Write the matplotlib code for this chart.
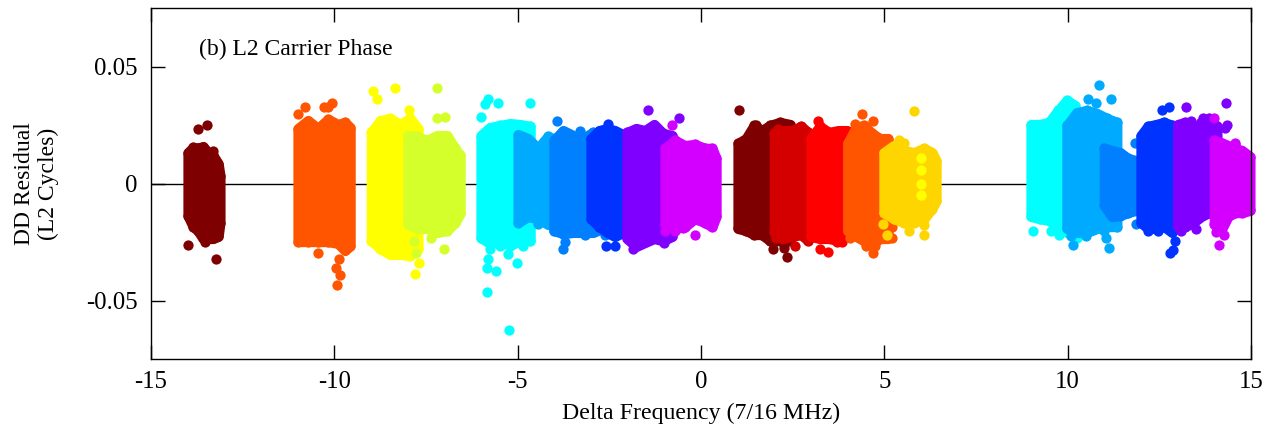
import matplotlib
matplotlib.use("Agg")
import matplotlib.pyplot as plt

plt.rcParams['font.family'] = ['Liberation Serif', 'DejaVu Serif']
plt.rcParams['axes.unicode_minus'] = False

cloud_colors = ['#7f0000', '#ff5500', '#ffff00', '#d4ff2a', '#00ffff', '#00aaff', '#0080ff',
                '#0033ff', '#8000ff', '#d400ff', '#7f0000', '#d40000', '#ff0000', '#ff5500',
                '#ffd500', '#00ffff', '#00aaff', '#0080ff', '#0033ff', '#8000ff', '#d400ff']

# outline of each dense cloud
cloud_x = [
    [-13.99, -13.85, -13.72, -13.58, -13.45, -13.31, -13.17, -13.12],
    [-10.99, -10.72, -10.45, -10.17, -9.90, -9.71, -9.57],
    [-8.99, -8.75, -8.48, -8.21, -7.94, -7.72],
    [-7.99, -7.75, -7.47, -7.20, -6.93, -6.71, -6.57],
    [-6.00, -5.76, -5.48, -5.21, -4.94, -4.66],
    [-4.99, -4.72, -4.45, -4.17, -3.90, -3.71],
    [-4.01, -3.76, -3.49, -3.22, -2.95, -2.67],
    [-3.00, -2.78, -2.56, -2.35, -2.13, -2.02],
    [-2.02, -1.77, -1.53, -1.28, -1.04, -0.79],
    [-0.98, -0.71, -0.44, -0.17, 0.11, 0.30, 0.41],
    [1.01, 1.23, 1.45, 1.66, 1.88, 2.15, 2.43],
    [2.00, 2.23, 2.48, 2.73, 2.92],
    [3.00, 3.24, 3.49, 3.74, 3.98, 4.14],
    [4.00, 4.23, 4.44, 4.66, 4.88, 5.10],
    [4.99, 5.26, 5.53, 5.81, 6.08, 6.30, 6.41],
    [9.00, 9.24, 9.49, 9.74, 9.98, 10.20],
    [9.98, 10.25, 10.52, 10.80, 11.07, 11.34],
    [11.00, 11.21, 11.43, 11.64, 11.86],
    [12.00, 12.19, 12.41, 12.63, 12.85],
    [13.00, 13.20, 13.42, 13.64, 13.85, 14.07],
    [14.00, 14.18, 14.37, 14.56, 14.75, 14.97],
]
cloud_hi = [
    [.0132, .0154, .0150, .0158, .0132, .0120, .0085, .0034],
    [.0235, .0269, .0235, .0274, .0252, .0261, .0239],
    [.0218, .0269, .0278, .0252, .0278, .0235],
    [.0205, .0201, .0184, .0205, .0205, .0150, .0120],
    [.0205, .0239, .0248, .0256, .0252, .0244],
    [.0209, .0192, .0150, .0201, .0184, .0184],
    [.0184, .0226, .0205, .0192, .0218, .0205],
    [.0192, .0226, .0235, .0226, .0209, .0192],
    [.0218, .0235, .0226, .0252, .0214, .0205],
    [.0150, .0184, .0162, .0167, .0150, .0150, .0107],
    [.0171, .0192, .0248, .0226, .0248, .0261, .0252],
    [.0214, .0226, .0226, .0244, .0218],
    [.0192, .0244, .0218, .0226, .0226, .0209],
    [.0171, .0239, .0248, .0214, .0192, .0192],
    [.0132, .0162, .0141, .0132, .0150, .0132, .0098],
    [.0252, .0252, .0261, .0312, .0355, .0333],
    [.0248, .0303, .0312, .0299, .0278, .0261],
    [.0150, .0141, .0132, .0107, .0098],
    [.0205, .0244, .0252, .0261, .0248],
    [.0252, .0261, .0226, .0261, .0278, .0244],
    [.0184, .0175, .0162, .0150, .0141, .0115],
]
cloud_lo = [
    [-.0137, -.0184, -.0201, -.0235, -.0235, -.0235, -.0226, -.0167],
    [-.0248, -.0248, -.0248, -.0248, -.0256, -.0286, -.0265],
    [-.0244, -.0278, -.0303, -.0303, -.0308, -.0278],
    [-.0175, -.0192, -.0192, -.0209, -.0201, -.0167, -.0128],
    [-.0231, -.0256, -.0244, -.0265, -.0244, -.0244],
    [-.0167, -.0141, -.0150, -.0175, -.0179, -.0179],
    [-.0201, -.0214, -.0209, -.0209, -.0209, -.0192],
    [-.0150, -.0184, -.0209, -.0226, -.0209, -.0192],
    [-.0235, -.0269, -.0252, -.0235, -.0244, -.0226],
    [-.0175, -.0192, -.0184, -.0150, -.0167, -.0184, -.0141],
    [-.0192, -.0201, -.0218, -.0218, -.0244, -.0244, -.0244],
    [-.0209, -.0235, -.0226, -.0218, -.0244],
    [-.0226, -.0235, -.0235, -.0244, -.0226, -.0209],
    [-.0201, -.0226, -.0244, -.0261, -.0235, -.0235],
    [-.0124, -.0150, -.0167, -.0167, -.0150, -.0107, -.0073],
    [-.0141, -.0150, -.0158, -.0184, -.0209, -.0226],
    [-.0192, -.0209, -.0209, -.0192, -.0184, -.0184],
    [-.0094, -.0141, -.0137, -.0124, -.0115],
    [-.0167, -.0192, -.0192, -.0184, -.0209],
    [-.0184, -.0184, -.0167, -.0141, -.0124, -.0115],
    [-.0175, -.0201, -.0141, -.0124, -.0124, -.0115],
]

# separate points outside the dense part
stray_x = [
    [-13.72, -13.47, -13.99, -13.23, -13.31, -13.53],
    [-10.99, -10.80, -10.28, -10.17, -10.06, -10.45, -9.87, -9.95, -9.85, -9.93],
    [-8.94, -8.84, -8.35, -7.96, -7.69, -7.80],
    [-7.20, -7.20, -6.98, -7.83, -7.77, -7.36, -7.01],
    [-5.81, -5.89, -5.54, -4.66, -6.00, -5.81, -5.84, -5.59, -5.27, -5.02, -5.84, -5.24, -5.76, -5.48, -4.85],
    [-4.45],
    [-3.93, -3.71, -3.76, -3.16, -2.62, -3.30],
    [-2.58, -2.34, -2.55],
    [-1.44, -0.60, -1.85, -1.00],
    [-0.79, -0.17, -0.48, -0.98, -0.71],
    [1.04, 1.96, 2.26, 2.34, 1.50],
    [2.10, 2.05, 2.55],
    [3.24, 3.46, 3.70, 3.85, 3.20],
    [4.39, 4.69, 4.20, 4.69, 5.21, 5.21, 4.05, 4.50, 4.75],
    [5.81, 5.40, 5.53, 4.97, 5.07, 5.67, 6.08, 6.08],
    [9.05, 10.25, 9.55, 9.75],
    [10.85, 10.55, 10.77, 11.18, 10.15, 11.04, 11.12, 10.10, 10.50, 11.00],
    [11.83, 11.86],
    [12.57, 12.76, 12.92, 12.87, 12.79, 12.20, 12.45],
    [13.22, 14.32, 14.35, 14.29, 13.10, 13.50, 13.35, 13.70],
    [13.99, 14.55, 14.14, 14.06, 14.25, 14.05, 14.55],
]
stray_y = [
    [.0235, .0248, -.0261, -.0321, .0137, -.0252],
    [.0299, .0329, .0325, .0325, .0346, -.0299, -.0321, -.0363, -.0393, -.0432],
    [.0397, .0359, .0406, .0316, -.0338, -.0385],
    [.0406, .0278, .0286, -.0244, -.0299, -.0231, -.0282],
    [.0363, .0338, .0346, .0346, .0286, -.0321, -.0363, -.0372, -.0303, -.0338, -.0462, -.0624, -.0278, -.0269, -.0265],
    [-.0175],
    [.0269, -.0252, -.0282, -.0222, -.0222, .0226],
    [-.0265, -.0265, .0256],
    [.0316, .0278, -.0282, -.0256],
    [.0252, -.0222, -.0192, -.0205, -.0205],
    [.0316, -.0282, -.0274, -.0312, .0248],
    [.0235, -.0235, -.0265],
    [-.0282, -.0291, -.0252, -.0252, .0265],
    [.0299, .0269, .0256, -.0299, -.0188, -.0231, -.0231, -.0269, -.0265],
    [.0308, .0188, .0175, -.0171, -.0222, -.0205, -.0222, -.0179],
    [-.0205, -.0235, -.0205, -.0222],
    [.0419, .0359, .0342, .0359, -.0261, -.0231, -.0274, -.0226, -.0226, -.0205],
    [.0175, -.0171],
    [.0316, .0329, -.0244, -.0286, -.0295, -.0205, -.0205],
    [.0329, .0346, .0248, .0239, -.0205, -.0196, .0265, .0278],
    [.0278, .0175, -.0261, -.0201, -.0222, -.0209, .0170],
]

# the few yellow points lying on top of the gold cloud
top_x = [6.00, 6.00, 6.00, 6.00]
top_y = [.0107, .0056, .0000, -.0051]

x_ticks = [-15, -10, -5, 0, 5, 10, 15]
y_ticks = [-0.05, 0, 0.05]
y_labels = ['-0.05', '0', '0.05']

fig = plt.figure(figsize=(12.73, 4.30), dpi=100)
ax = fig.add_axes([151 / 1273, 71 / 430, 1100 / 1273, 351 / 430])

ax.axhline(0, color='black', lw=1.0, zorder=1)

# marker about 10 px across
dot = 7.4
for i, color in enumerate(cloud_colors):
    z = 2 + i
    ax.fill_between(cloud_x[i], cloud_lo[i], cloud_hi[i], color=color, lw=dot,
                    joinstyle='round', zorder=z, clip_on=False)
    ax.scatter(cloud_x[i], cloud_hi[i], s=dot ** 2, color=color, lw=0, zorder=z, clip_on=False)
    ax.scatter(cloud_x[i], cloud_lo[i], s=dot ** 2, color=color, lw=0, zorder=z, clip_on=False)
    ax.scatter(stray_x[i], stray_y[i], s=dot ** 2, color=color, lw=0, zorder=z, clip_on=False)

ax.scatter(top_x, top_y, s=dot ** 2, color='#ffff00', lw=0, zorder=30)

ax.set_xlim(-15, 15)
ax.set_ylim(-0.075, 0.075)
ax.set_xticks(x_ticks)
ax.set_yticks(y_ticks)
ax.set_yticklabels(y_labels)
ax.tick_params(direction='in', length=10, width=1.0, top=True, right=True, labelsize=17.8)
ax.tick_params(axis='x', pad=9)
ax.tick_params(axis='y', pad=9.5)
for spine in ax.spines.values():
    spine.set_linewidth(1.0)
    spine.set_zorder(40)

ax.set_xlabel('Delta Frequency (7/16 MHz)', fontsize=17.2, labelpad=7)
fig.text(0.0285, 0.5725, 'DD Residual\n(L2 Cycles)', fontsize=17, rotation=90,
         ha='center', va='center', multialignment='center', linespacing=1.15)
ax.text(-13.7, 0.0572, '(b) L2 Carrier Phase', fontsize=17, ha='left', va='center')

fig.savefig('out.png', dpi=100)
